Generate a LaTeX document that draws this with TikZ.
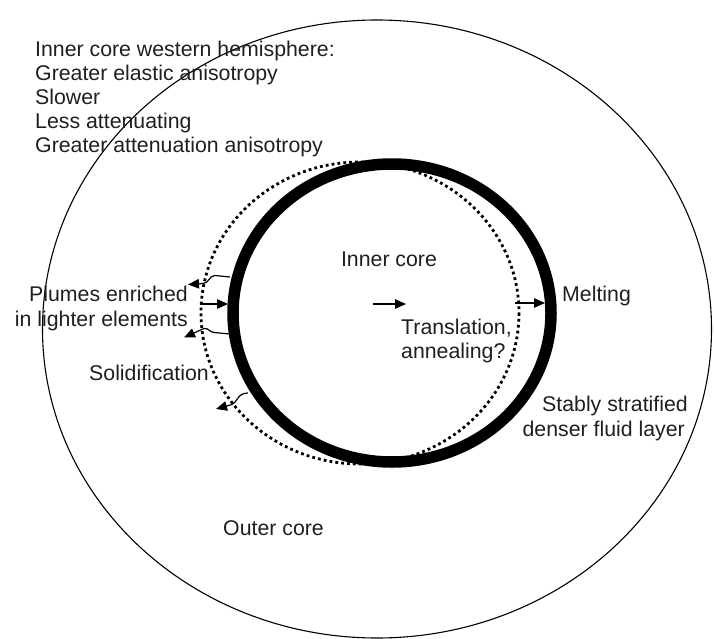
\documentclass[tikz,border=0pt]{standalone}
\usepackage{fontspec}
\setmainfont{Liberation Sans}
\usetikzlibrary{arrows.meta}
\begin{document}
\begin{tikzpicture}[x=1pt,y=-1pt,
  lbl/.style={inner sep=0pt, font=\fontsize{21.3}{24}\selectfont, text=black!88},
  thin/.style={line width=1.1pt},
  ring/.style={line width=11.5pt},
  dots/.style={line width=2.8pt, dash pattern=on 2.8pt off 3.1pt},
  arr/.style={line width=1.2pt, -{Triangle[length=11pt,width=9.5pt]}}]
\useasboundingbox (0,0) rectangle (714,639);
% shapes
\draw[thin] (377,329) ellipse [x radius=334.5, y radius=309];
\draw[dots] (360,313) ellipse [x radius=159, y radius=151];
\draw[ring] (392,313) ellipse [x radius=159, y radius=149];
% texts
\node[lbl, anchor=base west] (w1) at (35,56.5) {Inner core western hemisphere:};
\node[lbl, anchor=base west] (w2) at (35,80.5) {Greater elastic anisotropy};
\node[lbl, anchor=base west] (w3) at (35,104.5) {Slower};
\node[lbl, anchor=base west] (w4) at (35,128.5) {Less attenuating};
\node[lbl, anchor=base west] (w5) at (35,152.5) {Greater attenuation anisotropy};
\node[lbl, anchor=base] (ic) at (389,266.5) {Inner core};
\node[lbl, anchor=base west] (melt) at (562,301.5) {Melting};
\node[lbl, anchor=base east] (pl1) at (188,301.5) {Plumes enriched};
\node[lbl, anchor=base east] (pl2) at (188,326.5) {in lighter elements};
\node[lbl, anchor=base west] (tr1) at (401,334.5) {Translation,};
\node[lbl, anchor=base west] (tr2) at (401,358.5) {annealing?};
\node[lbl, anchor=base west] (sol) at (89,380.5) {Solidification};
\node[lbl, anchor=base east] (st1) at (688,411.5) {Stably stratified};
\node[lbl, anchor=base east] (st2) at (685,436.5) {denser fluid layer};
\node[lbl, anchor=base west] (oc) at (223,535.5) {Outer core};
% arrow end points
\coordinate (ca) at (373,304);
\coordinate (cb) at (406,304);
\coordinate (ma) at (515,303);
\coordinate (mb) at (545,303);
\coordinate (la) at (200,304);
\coordinate (lb) at (228,304);
\coordinate (ua) at (230,277);
\coordinate (ub) at (188,284.5);
\coordinate (da) at (230,334);
\coordinate (db) at (184,337.5);
\coordinate (ba) at (248,393);
\coordinate (bb) at (216,409);
% arrows
\draw[arr] (ca) -- (cb);
\draw[arr] (ma) -- (mb);
\draw[arr] (la) -- (lb);
\draw[arr] (ua) -- (215,275.5) .. controls (209,275.5) and (209,283.5) .. (203,283.5) -- (ub);
\draw[arr] (da) -- (214,332.5) .. controls (209,332) and (209,328) .. (204,328.5) -- (db);
\draw[arr] (ba) .. controls (237,393) and (237,403) .. (232,404.5) -- (bb);
\end{tikzpicture}
\end{document}
